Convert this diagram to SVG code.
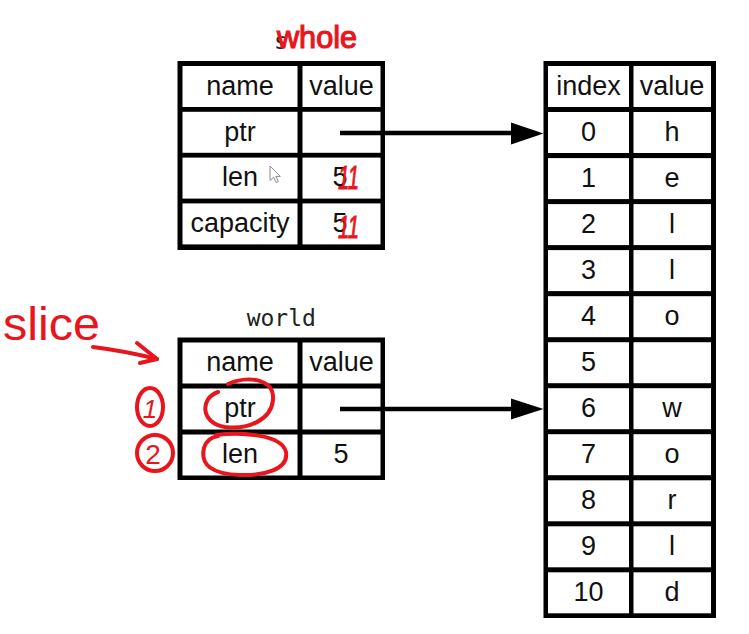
<svg xmlns="http://www.w3.org/2000/svg" width="749" height="634" viewBox="0 0 749 634">
<style>
.frame{fill:#000}
.cell{fill:#fff}
.t{font-family:"Liberation Sans",Arial,sans-serif;font-size:27px;fill:#111;text-anchor:middle}
.mono{font-family:"DejaVu Sans Mono","Liberation Mono",monospace;font-size:23px;fill:#222;text-anchor:middle}
.conn{stroke:#000;stroke-width:4.5;fill:none}
.head{fill:#000}
.red{fill:#e8161c;font-family:"Liberation Sans",Arial,sans-serif}
.redline{stroke:#e8161c;stroke-width:4;fill:none;stroke-linecap:round;stroke-linejoin:round}
</style>
<rect width="749" height="634" fill="#fff"/>

<g id="node-s">
<text class="mono" x="281" y="49">s</text>
<rect class="frame" x="177.5" y="61" width="207.5" height="189"/>
<rect class="cell" x="182.5" y="66" width="115" height="41"/>
<rect class="cell" x="302.5" y="66" width="78" height="41"/>
<rect class="cell" x="182.5" y="111.8" width="115" height="41"/>
<rect class="cell" x="302.5" y="111.8" width="78" height="41"/>
<rect class="cell" x="182.5" y="157.6" width="115" height="41"/>
<rect class="cell" x="302.5" y="157.6" width="78" height="41"/>
<rect class="cell" x="182.5" y="203.4" width="115" height="41"/>
<rect class="cell" x="302.5" y="203.4" width="78" height="41"/>
<text class="t" x="240" y="95">name</text>
<text class="t" x="341.5" y="95">value</text>
<text class="t" x="240" y="140.5">ptr</text>
<text class="t" x="240" y="186.3">len</text>
<text class="t" x="340" y="186.3">5</text>
<text class="t" x="240" y="232">capacity</text>
<text class="t" x="340" y="232">5</text>
</g>

<g id="node-world">
<text class="mono" x="281.3" y="326">world</text>
<rect class="frame" x="177.5" y="337.5" width="207.5" height="142.5"/>
<rect class="cell" x="182.5" y="342.5" width="115" height="41"/>
<rect class="cell" x="302.5" y="342.5" width="78" height="41"/>
<rect class="cell" x="182.5" y="388.5" width="115" height="41"/>
<rect class="cell" x="302.5" y="388.5" width="78" height="41"/>
<rect class="cell" x="182.5" y="434.5" width="115" height="41"/>
<rect class="cell" x="302.5" y="434.5" width="78" height="41"/>
<text class="t" x="240" y="371">name</text>
<text class="t" x="341.5" y="371">value</text>
<text class="t" x="240" y="417">ptr</text>
<text class="t" x="240" y="463">len</text>
<text class="t" x="341" y="463">5</text>
</g>

<g id="node-array">
<rect class="frame" x="543.5" y="61" width="172.5" height="557"/>
<g class="cell">
<rect x="548" y="66" width="81" height="41"/><rect x="633.5" y="66" width="77.5" height="41"/>
<rect x="548" y="112" width="81" height="41"/><rect x="633.5" y="112" width="77.5" height="41"/>
<rect x="548" y="158.1" width="81" height="41"/><rect x="633.5" y="158.1" width="77.5" height="41"/>
<rect x="548" y="204.1" width="81" height="41"/><rect x="633.5" y="204.1" width="77.5" height="41"/>
<rect x="548" y="250.1" width="81" height="41"/><rect x="633.5" y="250.1" width="77.5" height="41"/>
<rect x="548" y="296.2" width="81" height="41"/><rect x="633.5" y="296.2" width="77.5" height="41"/>
<rect x="548" y="342.2" width="81" height="41"/><rect x="633.5" y="342.2" width="77.5" height="41"/>
<rect x="548" y="388.2" width="81" height="41"/><rect x="633.5" y="388.2" width="77.5" height="41"/>
<rect x="548" y="434.2" width="81" height="41"/><rect x="633.5" y="434.2" width="77.5" height="41"/>
<rect x="548" y="480.3" width="81" height="41"/><rect x="633.5" y="480.3" width="77.5" height="41"/>
<rect x="548" y="526.3" width="81" height="41"/><rect x="633.5" y="526.3" width="77.5" height="41"/>
<rect x="548" y="572.3" width="81" height="41"/><rect x="633.5" y="572.3" width="77.5" height="41"/>
</g>
<text class="t" x="588.5" y="94.7">index</text><text class="t" x="672" y="94.7">value</text>
<text class="t" x="588.5" y="140.7">0</text><text class="t" x="672" y="140.7">h</text>
<text class="t" x="588.5" y="186.8">1</text><text class="t" x="672" y="186.8">e</text>
<text class="t" x="588.5" y="232.8">2</text><text class="t" x="672" y="232.8">l</text>
<text class="t" x="588.5" y="278.8">3</text><text class="t" x="672" y="278.8">l</text>
<text class="t" x="588.5" y="324.9">4</text><text class="t" x="672" y="324.9">o</text>
<text class="t" x="588.5" y="370.9">5</text>
<text class="t" x="588.5" y="416.9">6</text><text class="t" x="672" y="416.9">w</text>
<text class="t" x="588.5" y="463">7</text><text class="t" x="672" y="463">o</text>
<text class="t" x="588.5" y="509">8</text><text class="t" x="672" y="509">r</text>
<text class="t" x="588.5" y="555">9</text><text class="t" x="672" y="555">l</text>
<text class="t" x="588.5" y="601">10</text><text class="t" x="672" y="601">d</text>
</g>

<g id="connectors">
<line class="conn" x1="340" y1="133" x2="513" y2="133"/>
<polygon class="head" points="511,122.5 543.5,133.5 511,144.5"/>
<line class="conn" x1="340" y1="409" x2="513" y2="409"/>
<polygon class="head" points="511,398.5 543.5,409 511,419.5"/>
</g>

<g id="cursor">
<polygon points="270,166 270,180.5 273.5,177.2 276.2,182.6 278.4,181.6 275.8,176.4 280.3,176.4" fill="#fff" stroke="#8a8a8a" stroke-width="1"/>
</g>

<g id="annotations">
<text class="red" x="277" y="48" font-size="31" stroke="#e8161c" stroke-width="1.2" textLength="80" lengthAdjust="spacingAndGlyphs">whole</text>
<text class="red" x="338" y="189" font-size="33" font-style="italic" stroke="#e8161c" stroke-width="1" textLength="21" lengthAdjust="spacingAndGlyphs">11</text>
<text class="red" x="338" y="238" font-size="31" font-style="italic" stroke="#e8161c" stroke-width="1" textLength="21" lengthAdjust="spacingAndGlyphs">11</text>
<text class="red" x="3" y="340" font-size="46" textLength="97" lengthAdjust="spacingAndGlyphs">slice</text>
<path class="redline" d="M93,347 Q125,351 157,359"/>
<path class="redline" d="M137,343 L157,359 L140,363"/>
<ellipse class="redline" cx="150" cy="407" rx="13" ry="19"/>
<text class="red" x="150" y="418" font-size="26" font-style="italic" text-anchor="middle">1</text>
<ellipse class="redline" cx="155" cy="453" rx="18" ry="18"/>
<text class="red" x="153" y="464" font-size="28" text-anchor="middle">2</text>
<path class="redline" d="M228,384 C245,376 275,377 273,400 C271,420 248,430 225,427 C200,423 200,398 218,392"/>
<path class="redline" d="M216,435 C240,432 282,434 286,452 C289,470 262,476 240,475 C212,474 200,465 204,448 C206,440 212,437 218,436"/>
</g>
</svg>
